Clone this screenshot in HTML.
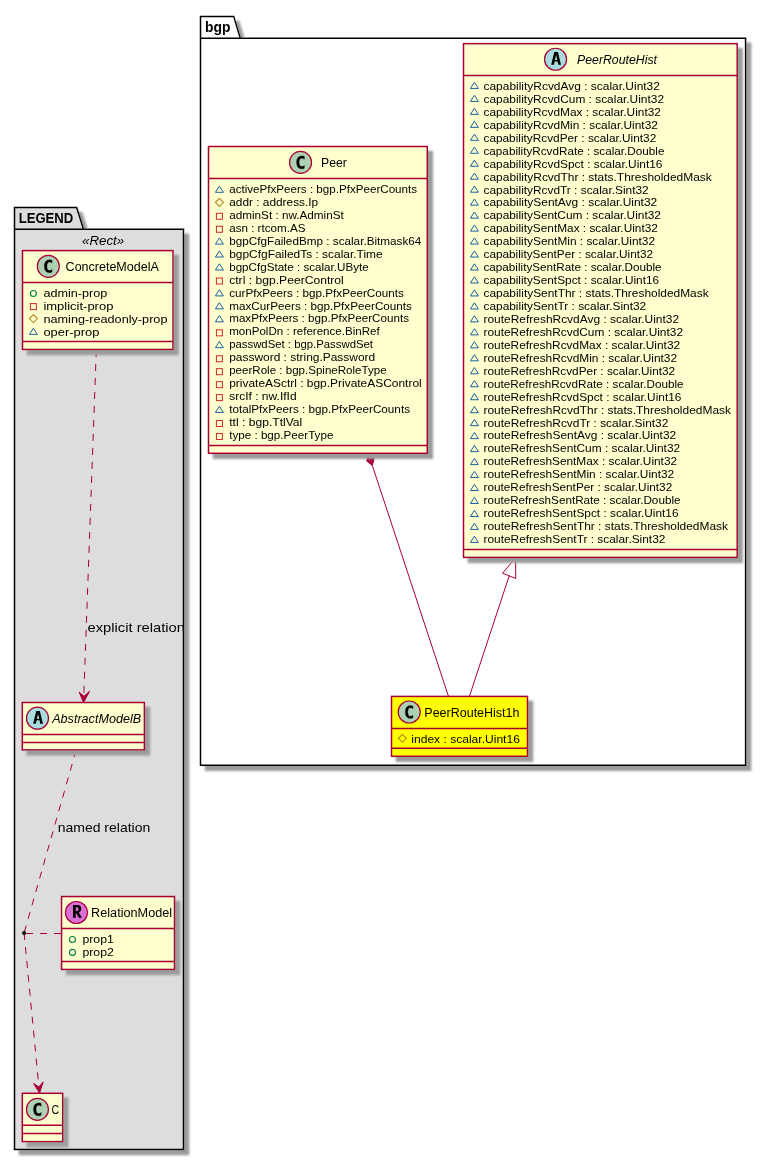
<!DOCTYPE html>
<html><head><meta charset="utf-8"><style>html,body{margin:0;padding:0;background:#fff;width:766px;height:1160px;overflow:hidden;position:relative}</style></head><body>
<svg width="766" height="1160" viewBox="0 0 766 1160" style="will-change:transform;position:absolute;left:0;top:0;font-family:'Liberation Sans',sans-serif">
<defs><filter id="sh" x="-50%" y="-50%" width="200%" height="200%"><feGaussianBlur in="SourceAlpha" stdDeviation="1.2" result="b"/><feFlood flood-color="#9C9C9C" result="fl"/><feComposite in="fl" in2="b" operator="in" result="b2"/><feOffset dx="4.5" dy="4.5" in="b2" result="b3"/><feMerge><feMergeNode in="b3"/><feMergeNode in="SourceGraphic"/></feMerge></filter></defs>
<rect x="0" y="0" width="766" height="1160" fill="#FFFFFF"/>
<g filter="url(#sh)"><polygon points="14.5,207.6 76.7,207.6 83.5,229.3 183.5,229.3 183.5,1149.4 14.5,1149.4" fill="#DDDDDD" stroke="#000000" stroke-width="1.5"/></g>
<line x1="14.5" y1="229.3" x2="83.5" y2="229.3" stroke="#000000" stroke-width="1.5"/>
<text id="pkg_legend" x="18.70" y="222.80" font-size="15.5" font-weight="bold" textLength="54.60" lengthAdjust="spacingAndGlyphs">LEGEND</text>
<text id="stereo" x="82.00" y="244.50" font-size="12.5" font-style="italic" textLength="42.21" lengthAdjust="spacingAndGlyphs">«Rect»</text>
<g filter="url(#sh)"><polygon points="200.5,16.4 233.7,16.4 240.3,38.3 745.6,38.3 745.6,765.3 200.5,765.3" fill="#FFFFFF" stroke="#000000" stroke-width="1.5"/></g>
<line x1="200.5" y1="38.3" x2="240.3" y2="38.3" stroke="#000000" stroke-width="1.5"/>
<text id="pkg_bgp" x="205.00" y="31.70" font-size="15" font-weight="bold" textLength="25.49" lengthAdjust="spacingAndGlyphs">bgp</text>
<line x1="96.30" y1="350.00" x2="83.60" y2="701.00" stroke="#A80036" stroke-width="1" stroke-dasharray="7,7"/>
<polygon points="83.5,702.6 79.1,692.0 84.0,696.3 89.6,691.2" fill="#A80036" stroke="#A80036" stroke-width="1"/>
<text id="lbl_explicit" x="87.50" y="631.70" font-size="13.5" textLength="97.50" lengthAdjust="spacingAndGlyphs">explicit relation</text>
<line x1="76.00" y1="750.50" x2="24.10" y2="933.05" stroke="#A80036" stroke-width="1" stroke-dasharray="7,7"/>
<line x1="24.10" y1="933.05" x2="39.40" y2="1092.00" stroke="#A80036" stroke-width="1" stroke-dasharray="7,7"/>
<polygon points="39.5,1093.1 33.6,1083.5 38.9,1086.9 43.2,1081.9" fill="#A80036" stroke="#A80036" stroke-width="1"/>
<line x1="26.10" y1="933.50" x2="61.50" y2="933.50" stroke="#A80036" stroke-width="1" stroke-dasharray="7,7"/>
<circle cx="24.1" cy="933.05" r="2" fill="#000000"/>
<text id="lbl_named" x="57.70" y="831.70" font-size="13.5" textLength="92.60" lengthAdjust="spacingAndGlyphs">named relation</text>
<g filter="url(#sh)"><rect x="22.50" y="250.60" width="150.50" height="98.85" fill="#FEFECE" stroke="#A80036" stroke-width="1.5"/></g>
<line x1="22.50" y1="282.40" x2="173.00" y2="282.40" stroke="#A80036" stroke-width="1.5"/>
<line x1="22.50" y1="341.40" x2="173.00" y2="341.40" stroke="#A80036" stroke-width="1.5"/>
<circle cx="48.30" cy="266.30" r="11" fill="#ADD1B2" stroke="#A80036" stroke-width="1.2"/>
<path transform="translate(44.35,259.85)" d="M7.7031,12.2656 Q7.125,12.5625 6.4844,12.7031 Q5.8438,12.8594 5.1406,12.8594 Q2.6406,12.8594 1.3125,11.2188 Q0,9.5625 0,6.4375 Q0,3.3125 1.3125,1.6563 Q2.6406,0 5.1406,0 Q5.8438,0 6.4844,0.1563 Q7.1406,0.3125 7.7031,0.6094 L7.7031,3.3281 Q7.0781,2.75 6.4844,2.4844 Q5.8906,2.2031 5.2656,2.2031 Q3.9219,2.2031 3.2344,3.2813 Q2.5469,4.3438 2.5469,6.4375 Q2.5469,8.5313 3.2344,9.6094 Q3.9219,10.6719 5.2656,10.6719 Q5.8906,10.6719 6.4844,10.4063 Q7.0781,10.125 7.7031,9.5469 L7.7031,12.2656 Z" fill="#000000" fill-rule="evenodd" stroke="#000000" stroke-width="0.35"/>
<text id="ConcreteModelA_title" x="65.60" y="271.00" font-size="12" textLength="93.20" lengthAdjust="spacingAndGlyphs">ConcreteModelA</text>
<circle cx="33.40" cy="293.55" r="3" fill="none" stroke="#038048" stroke-width="1.1"/>
<text id="ConcreteModelA_r0" x="43.40" y="297.00" font-size="11" textLength="63.90" lengthAdjust="spacingAndGlyphs">admin-prop</text>
<rect x="30.40" y="303.60" width="6" height="6" fill="none" stroke="#C82930" stroke-width="1"/>
<text id="ConcreteModelA_r1" x="43.40" y="310.00" font-size="11" textLength="70.00" lengthAdjust="spacingAndGlyphs">implicit-prop</text>
<polygon points="33.40,314.55 37.40,318.55 33.40,322.55 29.40,318.55" fill="none" stroke="#B38D22" stroke-width="1.1"/>
<text id="ConcreteModelA_r2" x="43.40" y="323.00" font-size="11" textLength="124.10" lengthAdjust="spacingAndGlyphs">naming-readonly-prop</text>
<polygon points="33.40,328.20 29.40,334.40 37.40,334.40" fill="none" stroke="#1963A0" stroke-width="1"/>
<text id="ConcreteModelA_r3" x="43.40" y="336.00" font-size="11" textLength="56.00" lengthAdjust="spacingAndGlyphs">oper-prop</text>
<g filter="url(#sh)"><rect x="22.30" y="702.50" width="122.10" height="47.40" fill="#FEFECE" stroke="#A80036" stroke-width="1.5"/></g>
<line x1="22.30" y1="734.60" x2="144.40" y2="734.60" stroke="#A80036" stroke-width="1.5"/>
<line x1="22.30" y1="742.40" x2="144.40" y2="742.40" stroke="#A80036" stroke-width="1.5"/>
<circle cx="37.50" cy="718.20" r="11" fill="#A9DCDF" stroke="#A80036" stroke-width="1.2"/>
<path transform="translate(33.15,710.95)" d="M0,12.8 L3.1,0 L6.7,0 L9.8,12.8 L7.1,12.8 L6.35,9.4 L3.45,9.4 L2.7,12.8 Z M3.7,8.0 L6.1,8.0 L4.9,2.9 Z" fill="#000000" fill-rule="evenodd"/>
<text id="AbstractModelB_title" x="52.23" y="722.60" font-size="12" font-style="italic" textLength="88.87" lengthAdjust="spacingAndGlyphs">AbstractModelB</text>
<g filter="url(#sh)"><rect x="61.55" y="896.55" width="112.95" height="72.90" fill="#FEFECE" stroke="#A80036" stroke-width="1.5"/></g>
<line x1="61.55" y1="928.45" x2="174.50" y2="928.45" stroke="#A80036" stroke-width="1.5"/>
<line x1="61.55" y1="961.40" x2="174.50" y2="961.40" stroke="#A80036" stroke-width="1.5"/>
<circle cx="76.45" cy="912.50" r="11" fill="#DA70D6" stroke="#A80036" stroke-width="1.2"/>
<path transform="translate(73.00,905.05)" d="M0,0 L4.6,0 Q8.2,0 8.2,3.9 Q8.2,6.7 5.9,7.6 L9.0,12.75 L5.9,12.75 L3.3,8.2 L2.75,8.2 L2.75,12.75 L0,12.75 Z M2.75,2.3 L4.5,2.3 Q5.55,2.3 5.55,4.1 Q5.55,5.9 4.5,5.9 L2.75,5.9 Z" fill="#000000" fill-rule="evenodd"/>
<text id="RelationModel_title" x="91.10" y="917.00" font-size="12" textLength="81.00" lengthAdjust="spacingAndGlyphs">RelationModel</text>
<circle cx="72.45" cy="939.50" r="3" fill="none" stroke="#038048" stroke-width="1.1"/>
<text id="RelationModel_r0" x="82.40" y="943.00" font-size="11" textLength="31.50" lengthAdjust="spacingAndGlyphs">prop1</text>
<circle cx="72.45" cy="952.40" r="3" fill="none" stroke="#038048" stroke-width="1.1"/>
<text id="RelationModel_r1" x="82.40" y="956.00" font-size="11" textLength="31.50" lengthAdjust="spacingAndGlyphs">prop2</text>
<g filter="url(#sh)"><rect x="22.30" y="1093.30" width="40.40" height="48.30" fill="#FEFECE" stroke="#A80036" stroke-width="1.5"/></g>
<line x1="22.30" y1="1125.30" x2="62.70" y2="1125.30" stroke="#A80036" stroke-width="1.5"/>
<line x1="22.30" y1="1133.50" x2="62.70" y2="1133.50" stroke="#A80036" stroke-width="1.5"/>
<circle cx="37.45" cy="1109.40" r="11" fill="#ADD1B2" stroke="#A80036" stroke-width="1.2"/>
<path transform="translate(33.50,1102.95)" d="M7.7031,12.2656 Q7.125,12.5625 6.4844,12.7031 Q5.8438,12.8594 5.1406,12.8594 Q2.6406,12.8594 1.3125,11.2188 Q0,9.5625 0,6.4375 Q0,3.3125 1.3125,1.6563 Q2.6406,0 5.1406,0 Q5.8438,0 6.4844,0.1563 Q7.1406,0.3125 7.7031,0.6094 L7.7031,3.3281 Q7.0781,2.75 6.4844,2.4844 Q5.8906,2.2031 5.2656,2.2031 Q3.9219,2.2031 3.2344,3.2813 Q2.5469,4.3438 2.5469,6.4375 Q2.5469,8.5313 3.2344,9.6094 Q3.9219,10.6719 5.2656,10.6719 Q5.8906,10.6719 6.4844,10.4063 Q7.0781,10.125 7.7031,9.5469 L7.7031,12.2656 Z" fill="#000000" fill-rule="evenodd" stroke="#000000" stroke-width="0.35"/>
<text id="C_title" x="51.40" y="1113.50" font-size="12" textLength="7.60" lengthAdjust="spacingAndGlyphs">C</text>
<line x1="372.3" y1="465.4" x2="448.5" y2="696.4" stroke="#A80036" stroke-width="1"/>
<polygon points="368.5,454.0 374.2,458.5 372.3,465.4 366.6,460.9" fill="#A80036" stroke="#A80036" stroke-width="1"/>
<line x1="509.2" y1="575.85" x2="469.4" y2="696.4" stroke="#A80036" stroke-width="1"/>
<polygon points="515.5,557.8 515.8,578.5 502.6,573.2" fill="none" stroke="#A80036" stroke-width="1"/>
<g filter="url(#sh)"><rect x="208.50" y="146.50" width="218.80" height="306.80" fill="#FEFECE" stroke="#A80036" stroke-width="1.5"/></g>
<line x1="208.50" y1="178.50" x2="427.30" y2="178.50" stroke="#A80036" stroke-width="1.5"/>
<line x1="208.50" y1="445.45" x2="427.30" y2="445.45" stroke="#A80036" stroke-width="1.5"/>
<circle cx="300.55" cy="162.40" r="11" fill="#ADD1B2" stroke="#A80036" stroke-width="1.2"/>
<path transform="translate(296.60,155.95)" d="M7.7031,12.2656 Q7.125,12.5625 6.4844,12.7031 Q5.8438,12.8594 5.1406,12.8594 Q2.6406,12.8594 1.3125,11.2188 Q0,9.5625 0,6.4375 Q0,3.3125 1.3125,1.6563 Q2.6406,0 5.1406,0 Q5.8438,0 6.4844,0.1563 Q7.1406,0.3125 7.7031,0.6094 L7.7031,3.3281 Q7.0781,2.75 6.4844,2.4844 Q5.8906,2.2031 5.2656,2.2031 Q3.9219,2.2031 3.2344,3.2813 Q2.5469,4.3438 2.5469,6.4375 Q2.5469,8.5313 3.2344,9.6094 Q3.9219,10.6719 5.2656,10.6719 Q5.8906,10.6719 6.4844,10.4063 Q7.0781,10.125 7.7031,9.5469 L7.7031,12.2656 Z" fill="#000000" fill-rule="evenodd" stroke="#000000" stroke-width="0.35"/>
<text id="Peer_title" x="321.00" y="166.70" font-size="12" textLength="25.80" lengthAdjust="spacingAndGlyphs">Peer</text>
<polygon points="219.40,186.10 215.40,192.30 223.40,192.30" fill="none" stroke="#1963A0" stroke-width="1"/>
<text id="Peer_r0" x="229.20" y="193.00" font-size="11" textLength="187.90" lengthAdjust="spacingAndGlyphs">activePfxPeers : bgp.PfxPeerCounts</text>
<polygon points="219.40,198.35 223.40,202.35 219.40,206.35 215.40,202.35" fill="none" stroke="#B38D22" stroke-width="1.1"/>
<text id="Peer_r1" x="229.20" y="206.00" font-size="11" textLength="89.01" lengthAdjust="spacingAndGlyphs">addr : address.Ip</text>
<rect x="216.40" y="213.30" width="6" height="6" fill="none" stroke="#C82930" stroke-width="1"/>
<text id="Peer_r2" x="229.20" y="219.00" font-size="11" textLength="114.60" lengthAdjust="spacingAndGlyphs">adminSt : nw.AdminSt</text>
<rect x="216.40" y="226.25" width="6" height="6" fill="none" stroke="#C82930" stroke-width="1"/>
<text id="Peer_r3" x="229.20" y="232.00" font-size="11" textLength="76.20" lengthAdjust="spacingAndGlyphs">asn : rtcom.AS</text>
<polygon points="219.40,237.90 215.40,244.10 223.40,244.10" fill="none" stroke="#1963A0" stroke-width="1"/>
<text id="Peer_r4" x="229.20" y="245.00" font-size="11" textLength="192.20" lengthAdjust="spacingAndGlyphs">bgpCfgFailedBmp : scalar.Bitmask64</text>
<polygon points="219.40,250.85 215.40,257.05 223.40,257.05" fill="none" stroke="#1963A0" stroke-width="1"/>
<text id="Peer_r5" x="229.20" y="258.00" font-size="11" textLength="153.50" lengthAdjust="spacingAndGlyphs">bgpCfgFailedTs : scalar.Time</text>
<polygon points="219.40,263.80 215.40,270.00 223.40,270.00" fill="none" stroke="#1963A0" stroke-width="1"/>
<text id="Peer_r6" x="229.20" y="271.00" font-size="11" textLength="139.50" lengthAdjust="spacingAndGlyphs">bgpCfgState : scalar.UByte</text>
<rect x="216.40" y="278.05" width="6" height="6" fill="none" stroke="#C82930" stroke-width="1"/>
<text id="Peer_r7" x="229.20" y="284.00" font-size="11" textLength="114.60" lengthAdjust="spacingAndGlyphs">ctrl : bgp.PeerControl</text>
<polygon points="219.40,289.70 215.40,295.90 223.40,295.90" fill="none" stroke="#1963A0" stroke-width="1"/>
<text id="Peer_r8" x="229.20" y="297.00" font-size="11" textLength="174.70" lengthAdjust="spacingAndGlyphs">curPfxPeers : bgp.PfxPeerCounts</text>
<polygon points="219.40,302.65 215.40,308.85 223.40,308.85" fill="none" stroke="#1963A0" stroke-width="1"/>
<text id="Peer_r9" x="229.20" y="310.00" font-size="11" textLength="182.80" lengthAdjust="spacingAndGlyphs">maxCurPeers : bgp.PfxPeerCounts</text>
<polygon points="219.40,315.60 215.40,321.80 223.40,321.80" fill="none" stroke="#1963A0" stroke-width="1"/>
<text id="Peer_r10" x="229.20" y="322.00" font-size="11" textLength="179.80" lengthAdjust="spacingAndGlyphs">maxPfxPeers : bgp.PfxPeerCounts</text>
<rect x="216.40" y="329.85" width="6" height="6" fill="none" stroke="#C82930" stroke-width="1"/>
<text id="Peer_r11" x="229.20" y="335.00" font-size="11" textLength="150.57" lengthAdjust="spacingAndGlyphs">monPolDn : reference.BinRef</text>
<polygon points="219.40,341.50 215.40,347.70 223.40,347.70" fill="none" stroke="#1963A0" stroke-width="1"/>
<text id="Peer_r12" x="229.20" y="348.00" font-size="11" textLength="143.80" lengthAdjust="spacingAndGlyphs">passwdSet : bgp.PasswdSet</text>
<rect x="216.40" y="355.75" width="6" height="6" fill="none" stroke="#C82930" stroke-width="1"/>
<text id="Peer_r13" x="229.20" y="361.00" font-size="11" textLength="146.00" lengthAdjust="spacingAndGlyphs">password : string.Password</text>
<rect x="216.40" y="368.70" width="6" height="6" fill="none" stroke="#C82930" stroke-width="1"/>
<text id="Peer_r14" x="229.20" y="374.00" font-size="11" textLength="157.40" lengthAdjust="spacingAndGlyphs">peerRole : bgp.SpineRoleType</text>
<rect x="216.40" y="381.65" width="6" height="6" fill="none" stroke="#C82930" stroke-width="1"/>
<text id="Peer_r15" x="229.20" y="387.00" font-size="11" textLength="192.50" lengthAdjust="spacingAndGlyphs">privateASctrl : bgp.PrivateASControl</text>
<rect x="216.40" y="394.60" width="6" height="6" fill="none" stroke="#C82930" stroke-width="1"/>
<text id="Peer_r16" x="229.20" y="400.00" font-size="11" textLength="67.40" lengthAdjust="spacingAndGlyphs">srcIf : nw.IfId</text>
<polygon points="219.40,406.25 215.40,412.45 223.40,412.45" fill="none" stroke="#1963A0" stroke-width="1"/>
<text id="Peer_r17" x="229.20" y="413.00" font-size="11" textLength="180.80" lengthAdjust="spacingAndGlyphs">totalPfxPeers : bgp.PfxPeerCounts</text>
<rect x="216.40" y="420.50" width="6" height="6" fill="none" stroke="#C82930" stroke-width="1"/>
<text id="Peer_r18" x="229.20" y="426.00" font-size="11" textLength="73.09" lengthAdjust="spacingAndGlyphs">ttl : bgp.TtlVal</text>
<rect x="216.40" y="433.45" width="6" height="6" fill="none" stroke="#C82930" stroke-width="1"/>
<text id="Peer_r19" x="229.20" y="439.00" font-size="11" textLength="104.20" lengthAdjust="spacingAndGlyphs">type : bgp.PeerType</text>
<g filter="url(#sh)"><rect x="463.50" y="43.65" width="273.70" height="513.75" fill="#FEFECE" stroke="#A80036" stroke-width="1.5"/></g>
<line x1="463.50" y1="75.50" x2="737.20" y2="75.50" stroke="#A80036" stroke-width="1.5"/>
<line x1="463.50" y1="549.50" x2="737.20" y2="549.50" stroke="#A80036" stroke-width="1.5"/>
<circle cx="555.55" cy="59.25" r="11" fill="#A9DCDF" stroke="#A80036" stroke-width="1.2"/>
<path transform="translate(551.20,52.00)" d="M0,12.8 L3.1,0 L6.7,0 L9.8,12.8 L7.1,12.8 L6.35,9.4 L3.45,9.4 L2.7,12.8 Z M3.7,8.0 L6.1,8.0 L4.9,2.9 Z" fill="#000000" fill-rule="evenodd"/>
<text id="PeerRouteHist_title" x="577.00" y="64.00" font-size="12" font-style="italic" textLength="79.97" lengthAdjust="spacingAndGlyphs">PeerRouteHist</text>
<polygon points="474.40,82.25 470.40,88.45 478.40,88.45" fill="none" stroke="#1963A0" stroke-width="1"/>
<text id="PeerRouteHist_r0" x="483.50" y="90.00" font-size="11" textLength="176.40" lengthAdjust="spacingAndGlyphs">capabilityRcvdAvg : scalar.Uint32</text>
<polygon points="474.40,95.22 470.40,101.42 478.40,101.42" fill="none" stroke="#1963A0" stroke-width="1"/>
<text id="PeerRouteHist_r1" x="483.50" y="103.00" font-size="11" textLength="180.50" lengthAdjust="spacingAndGlyphs">capabilityRcvdCum : scalar.Uint32</text>
<polygon points="474.40,108.19 470.40,114.39 478.40,114.39" fill="none" stroke="#1963A0" stroke-width="1"/>
<text id="PeerRouteHist_r2" x="483.50" y="116.00" font-size="11" textLength="177.40" lengthAdjust="spacingAndGlyphs">capabilityRcvdMax : scalar.Uint32</text>
<polygon points="474.40,121.16 470.40,127.36 478.40,127.36" fill="none" stroke="#1963A0" stroke-width="1"/>
<text id="PeerRouteHist_r3" x="483.50" y="129.00" font-size="11" textLength="174.40" lengthAdjust="spacingAndGlyphs">capabilityRcvdMin : scalar.Uint32</text>
<polygon points="474.40,134.13 470.40,140.33 478.40,140.33" fill="none" stroke="#1963A0" stroke-width="1"/>
<text id="PeerRouteHist_r4" x="483.50" y="142.00" font-size="11" textLength="172.70" lengthAdjust="spacingAndGlyphs">capabilityRcvdPer : scalar.Uint32</text>
<polygon points="474.40,147.10 470.40,153.30 478.40,153.30" fill="none" stroke="#1963A0" stroke-width="1"/>
<text id="PeerRouteHist_r5" x="483.50" y="155.00" font-size="11" textLength="180.90" lengthAdjust="spacingAndGlyphs">capabilityRcvdRate : scalar.Double</text>
<polygon points="474.40,160.07 470.40,166.27 478.40,166.27" fill="none" stroke="#1963A0" stroke-width="1"/>
<text id="PeerRouteHist_r6" x="483.50" y="168.00" font-size="11" textLength="178.89" lengthAdjust="spacingAndGlyphs">capabilityRcvdSpct : scalar.Uint16</text>
<polygon points="474.40,173.04 470.40,179.24 478.40,179.24" fill="none" stroke="#1963A0" stroke-width="1"/>
<text id="PeerRouteHist_r7" x="483.50" y="181.00" font-size="11" textLength="228.27" lengthAdjust="spacingAndGlyphs">capabilityRcvdThr : stats.ThresholdedMask</text>
<polygon points="474.40,186.01 470.40,192.21 478.40,192.21" fill="none" stroke="#1963A0" stroke-width="1"/>
<text id="PeerRouteHist_r8" x="483.50" y="194.00" font-size="11" textLength="165.20" lengthAdjust="spacingAndGlyphs">capabilityRcvdTr : scalar.Sint32</text>
<polygon points="474.40,198.98 470.40,205.18 478.40,205.18" fill="none" stroke="#1963A0" stroke-width="1"/>
<text id="PeerRouteHist_r9" x="483.50" y="206.00" font-size="11" textLength="173.71" lengthAdjust="spacingAndGlyphs">capabilitySentAvg : scalar.Uint32</text>
<polygon points="474.40,211.95 470.40,218.15 478.40,218.15" fill="none" stroke="#1963A0" stroke-width="1"/>
<text id="PeerRouteHist_r10" x="483.50" y="219.00" font-size="11" textLength="177.40" lengthAdjust="spacingAndGlyphs">capabilitySentCum : scalar.Uint32</text>
<polygon points="474.40,224.92 470.40,231.12 478.40,231.12" fill="none" stroke="#1963A0" stroke-width="1"/>
<text id="PeerRouteHist_r11" x="483.50" y="232.00" font-size="11" textLength="174.39" lengthAdjust="spacingAndGlyphs">capabilitySentMax : scalar.Uint32</text>
<polygon points="474.40,237.89 470.40,244.09 478.40,244.09" fill="none" stroke="#1963A0" stroke-width="1"/>
<text id="PeerRouteHist_r12" x="483.50" y="245.00" font-size="11" textLength="171.50" lengthAdjust="spacingAndGlyphs">capabilitySentMin : scalar.Uint32</text>
<polygon points="474.40,250.86 470.40,257.06 478.40,257.06" fill="none" stroke="#1963A0" stroke-width="1"/>
<text id="PeerRouteHist_r13" x="483.50" y="258.00" font-size="11" textLength="169.59" lengthAdjust="spacingAndGlyphs">capabilitySentPer : scalar.Uint32</text>
<polygon points="474.40,263.83 470.40,270.03 478.40,270.03" fill="none" stroke="#1963A0" stroke-width="1"/>
<text id="PeerRouteHist_r14" x="483.50" y="271.00" font-size="11" textLength="178.00" lengthAdjust="spacingAndGlyphs">capabilitySentRate : scalar.Double</text>
<polygon points="474.40,276.80 470.40,283.00 478.40,283.00" fill="none" stroke="#1963A0" stroke-width="1"/>
<text id="PeerRouteHist_r15" x="483.50" y="284.00" font-size="11" textLength="175.60" lengthAdjust="spacingAndGlyphs">capabilitySentSpct : scalar.Uint16</text>
<polygon points="474.40,289.77 470.40,295.97 478.40,295.97" fill="none" stroke="#1963A0" stroke-width="1"/>
<text id="PeerRouteHist_r16" x="483.50" y="297.00" font-size="11" textLength="225.17" lengthAdjust="spacingAndGlyphs">capabilitySentThr : stats.ThresholdedMask</text>
<polygon points="474.40,302.74 470.40,308.94 478.40,308.94" fill="none" stroke="#1963A0" stroke-width="1"/>
<text id="PeerRouteHist_r17" x="483.50" y="310.00" font-size="11" textLength="162.70" lengthAdjust="spacingAndGlyphs">capabilitySentTr : scalar.Sint32</text>
<polygon points="474.40,315.71 470.40,321.91 478.40,321.91" fill="none" stroke="#1963A0" stroke-width="1"/>
<text id="PeerRouteHist_r18" x="483.50" y="323.00" font-size="11" textLength="195.59" lengthAdjust="spacingAndGlyphs">routeRefreshRcvdAvg : scalar.Uint32</text>
<polygon points="474.40,328.68 470.40,334.88 478.40,334.88" fill="none" stroke="#1963A0" stroke-width="1"/>
<text id="PeerRouteHist_r19" x="483.50" y="336.00" font-size="11" textLength="199.50" lengthAdjust="spacingAndGlyphs">routeRefreshRcvdCum : scalar.Uint32</text>
<polygon points="474.40,341.65 470.40,347.85 478.40,347.85" fill="none" stroke="#1963A0" stroke-width="1"/>
<text id="PeerRouteHist_r20" x="483.50" y="349.00" font-size="11" textLength="196.59" lengthAdjust="spacingAndGlyphs">routeRefreshRcvdMax : scalar.Uint32</text>
<polygon points="474.40,354.62 470.40,360.82 478.40,360.82" fill="none" stroke="#1963A0" stroke-width="1"/>
<text id="PeerRouteHist_r21" x="483.50" y="362.00" font-size="11" textLength="193.60" lengthAdjust="spacingAndGlyphs">routeRefreshRcvdMin : scalar.Uint32</text>
<polygon points="474.40,367.59 470.40,373.79 478.40,373.79" fill="none" stroke="#1963A0" stroke-width="1"/>
<text id="PeerRouteHist_r22" x="483.50" y="375.00" font-size="11" textLength="191.70" lengthAdjust="spacingAndGlyphs">routeRefreshRcvdPer : scalar.Uint32</text>
<polygon points="474.40,380.56 470.40,386.76 478.40,386.76" fill="none" stroke="#1963A0" stroke-width="1"/>
<text id="PeerRouteHist_r23" x="483.50" y="388.00" font-size="11" textLength="200.10" lengthAdjust="spacingAndGlyphs">routeRefreshRcvdRate : scalar.Double</text>
<polygon points="474.40,393.53 470.40,399.73 478.40,399.73" fill="none" stroke="#1963A0" stroke-width="1"/>
<text id="PeerRouteHist_r24" x="483.50" y="401.00" font-size="11" textLength="197.90" lengthAdjust="spacingAndGlyphs">routeRefreshRcvdSpct : scalar.Uint16</text>
<polygon points="474.40,406.50 470.40,412.70 478.40,412.70" fill="none" stroke="#1963A0" stroke-width="1"/>
<text id="PeerRouteHist_r25" x="483.50" y="414.00" font-size="11" textLength="247.47" lengthAdjust="spacingAndGlyphs">routeRefreshRcvdThr : stats.ThresholdedMask</text>
<polygon points="474.40,419.47 470.40,425.67 478.40,425.67" fill="none" stroke="#1963A0" stroke-width="1"/>
<text id="PeerRouteHist_r26" x="483.50" y="427.00" font-size="11" textLength="184.80" lengthAdjust="spacingAndGlyphs">routeRefreshRcvdTr : scalar.Sint32</text>
<polygon points="474.40,432.44 470.40,438.64 478.40,438.64" fill="none" stroke="#1963A0" stroke-width="1"/>
<text id="PeerRouteHist_r27" x="483.50" y="439.00" font-size="11" textLength="192.70" lengthAdjust="spacingAndGlyphs">routeRefreshSentAvg : scalar.Uint32</text>
<polygon points="474.40,445.41 470.40,451.61 478.40,451.61" fill="none" stroke="#1963A0" stroke-width="1"/>
<text id="PeerRouteHist_r28" x="483.50" y="452.00" font-size="11" textLength="196.59" lengthAdjust="spacingAndGlyphs">routeRefreshSentCum : scalar.Uint32</text>
<polygon points="474.40,458.38 470.40,464.58 478.40,464.58" fill="none" stroke="#1963A0" stroke-width="1"/>
<text id="PeerRouteHist_r29" x="483.50" y="465.00" font-size="11" textLength="193.60" lengthAdjust="spacingAndGlyphs">routeRefreshSentMax : scalar.Uint32</text>
<polygon points="474.40,471.35 470.40,477.55 478.40,477.55" fill="none" stroke="#1963A0" stroke-width="1"/>
<text id="PeerRouteHist_r30" x="483.50" y="478.00" font-size="11" textLength="190.69" lengthAdjust="spacingAndGlyphs">routeRefreshSentMin : scalar.Uint32</text>
<polygon points="474.40,484.32 470.40,490.52 478.40,490.52" fill="none" stroke="#1963A0" stroke-width="1"/>
<text id="PeerRouteHist_r31" x="483.50" y="491.00" font-size="11" textLength="188.70" lengthAdjust="spacingAndGlyphs">routeRefreshSentPer : scalar.Uint32</text>
<polygon points="474.40,497.29 470.40,503.49 478.40,503.49" fill="none" stroke="#1963A0" stroke-width="1"/>
<text id="PeerRouteHist_r32" x="483.50" y="504.00" font-size="11" textLength="197.00" lengthAdjust="spacingAndGlyphs">routeRefreshSentRate : scalar.Double</text>
<polygon points="474.40,510.26 470.40,516.46 478.40,516.46" fill="none" stroke="#1963A0" stroke-width="1"/>
<text id="PeerRouteHist_r33" x="483.50" y="517.00" font-size="11" textLength="195.00" lengthAdjust="spacingAndGlyphs">routeRefreshSentSpct : scalar.Uint16</text>
<polygon points="474.40,523.23 470.40,529.43 478.40,529.43" fill="none" stroke="#1963A0" stroke-width="1"/>
<text id="PeerRouteHist_r34" x="483.50" y="530.00" font-size="11" textLength="244.48" lengthAdjust="spacingAndGlyphs">routeRefreshSentThr : stats.ThresholdedMask</text>
<polygon points="474.40,536.20 470.40,542.40 478.40,542.40" fill="none" stroke="#1963A0" stroke-width="1"/>
<text id="PeerRouteHist_r35" x="483.50" y="543.00" font-size="11" textLength="181.90" lengthAdjust="spacingAndGlyphs">routeRefreshSentTr : scalar.Sint32</text>
<g filter="url(#sh)"><rect x="391.50" y="696.40" width="136.00" height="59.90" fill="#FFFF00" stroke="#A80036" stroke-width="1.5"/></g>
<line x1="391.50" y1="728.55" x2="527.50" y2="728.55" stroke="#A80036" stroke-width="1.5"/>
<line x1="391.50" y1="748.20" x2="527.50" y2="748.20" stroke="#A80036" stroke-width="1.5"/>
<circle cx="409.20" cy="712.00" r="11" fill="#ADD1B2" stroke="#A80036" stroke-width="1.2"/>
<path transform="translate(405.25,705.55)" d="M7.7031,12.2656 Q7.125,12.5625 6.4844,12.7031 Q5.8438,12.8594 5.1406,12.8594 Q2.6406,12.8594 1.3125,11.2188 Q0,9.5625 0,6.4375 Q0,3.3125 1.3125,1.6563 Q2.6406,0 5.1406,0 Q5.8438,0 6.4844,0.1563 Q7.1406,0.3125 7.7031,0.6094 L7.7031,3.3281 Q7.0781,2.75 6.4844,2.4844 Q5.8906,2.2031 5.2656,2.2031 Q3.9219,2.2031 3.2344,3.2813 Q2.5469,4.3438 2.5469,6.4375 Q2.5469,8.5313 3.2344,9.6094 Q3.9219,10.6719 5.2656,10.6719 Q5.8906,10.6719 6.4844,10.4063 Q7.0781,10.125 7.7031,9.5469 L7.7031,12.2656 Z" fill="#000000" fill-rule="evenodd" stroke="#000000" stroke-width="0.35"/>
<text id="PeerRouteHist1h_title" x="424.30" y="716.50" font-size="12" textLength="95.20" lengthAdjust="spacingAndGlyphs">PeerRouteHist1h</text>
<polygon points="402.40,734.30 406.40,738.30 402.40,742.30 398.40,738.30" fill="none" stroke="#B38D22" stroke-width="1.1"/>
<text id="PeerRouteHist1h_r0" x="411.30" y="743.00" font-size="11" textLength="108.60" lengthAdjust="spacingAndGlyphs">index : scalar.Uint16</text>
</svg>
</body></html>
